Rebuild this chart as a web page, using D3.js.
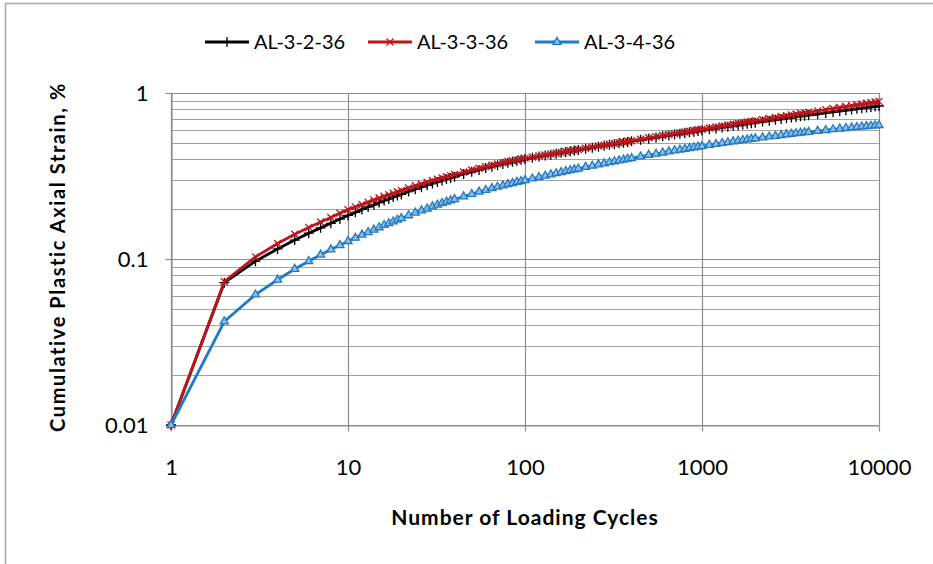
<!DOCTYPE html>
<html>
<head>
<meta charset="utf-8">
<script src="https://cdn.jsdelivr.net/npm/d3@7"></script>
<style>
  html, body { margin: 0; padding: 0; background: #fff; }
  svg { display: block; }
  text { font-family: Lato, "Open Sans", sans-serif; fill: #000; }
</style>
</head>
<body>
<svg id="chart" width="933" height="564"></svg>
<script>
// ---------- data ----------
const cycles = [1,2,3,4,5,6,7,8,9,10,
  11,12,13,14,15,16,17,18,19,20,
  22,24,26,28,30,32,34,36,38,40,
  45,50,55,60,65,70,75,80,85,90,95,100,
  110,120,130,140,150,160,170,180,190,200,
  220,240,260,280,300,320,340,360,380,400,
  450,500,550,600,650,700,750,800,850,900,950,1000,
  1100,1200,1300,1400,1500,1600,1700,1800,1900,2000,
  2200,2400,2600,2800,3000,3200,3400,3600,3800,4000,
  4500,5000,5500,6000,6500,7000,7500,8000,8500,9000,9500,10000];

const strainAL_3_2_36 = [0.010,0.072,0.097,0.115,0.130,0.143,0.154,0.164,0.174,0.183,
  0.191,0.199,0.206,0.212,0.219,0.225,0.230,0.236,0.241,0.245,
  0.255,0.263,0.271,0.278,0.285,0.291,0.297,0.303,0.308,0.313,
  0.325,0.335,0.344,0.353,0.360,0.367,0.374,0.380,0.385,0.391,0.396,0.400,
  0.407,0.414,0.420,0.425,0.431,0.436,0.441,0.445,0.450,0.454,
  0.461,0.468,0.475,0.481,0.487,0.492,0.498,0.502,0.507,0.512,
  0.522,0.531,0.540,0.548,0.555,0.562,0.568,0.574,0.580,0.585,0.590,0.595,
  0.604,0.612,0.620,0.627,0.634,0.641,0.647,0.652,0.658,0.663,
  0.673,0.681,0.690,0.697,0.704,0.711,0.718,0.724,0.729,0.735,
  0.747,0.759,0.769,0.778,0.787,0.795,0.803,0.810,0.817,0.823,0.829,0.835];

const strainAL_3_3_36 = [0.010,0.073,0.103,0.124,0.141,0.155,0.167,0.178,0.189,0.198,
  0.206,0.213,0.220,0.227,0.233,0.239,0.244,0.249,0.254,0.259,
  0.268,0.276,0.283,0.290,0.297,0.302,0.308,0.313,0.318,0.323,
  0.334,0.344,0.352,0.360,0.367,0.374,0.380,0.386,0.391,0.395,0.400,0.404,
  0.411,0.417,0.423,0.429,0.434,0.439,0.444,0.449,0.453,0.457,
  0.465,0.472,0.479,0.485,0.491,0.497,0.502,0.507,0.512,0.516,
  0.527,0.537,0.546,0.554,0.562,0.569,0.576,0.582,0.588,0.594,0.600,0.605,
  0.615,0.624,0.633,0.641,0.648,0.656,0.662,0.669,0.675,0.681,
  0.692,0.702,0.712,0.721,0.729,0.737,0.744,0.752,0.759,0.765,
  0.780,0.794,0.807,0.818,0.829,0.839,0.849,0.858,0.867,0.875,0.883,0.890];

const strainAL_3_4_36 = [0.010,0.042,0.061,0.075,0.087,0.097,0.106,0.114,0.121,0.128,
  0.134,0.140,0.145,0.150,0.155,0.160,0.164,0.168,0.172,0.176,
  0.183,0.190,0.196,0.201,0.207,0.212,0.217,0.221,0.225,0.229,
  0.238,0.246,0.254,0.260,0.267,0.272,0.277,0.282,0.286,0.291,0.294,0.298,
  0.305,0.311,0.317,0.323,0.328,0.333,0.338,0.342,0.346,0.350,
  0.358,0.364,0.371,0.376,0.382,0.387,0.392,0.396,0.401,0.405,
  0.414,0.423,0.430,0.437,0.444,0.450,0.455,0.460,0.465,0.470,0.474,0.478,
  0.486,0.492,0.499,0.504,0.510,0.515,0.520,0.524,0.528,0.532,
  0.539,0.546,0.551,0.557,0.562,0.567,0.571,0.575,0.579,0.582,
  0.590,0.597,0.604,0.609,0.614,0.619,0.623,0.627,0.631,0.634,0.637,0.640];

const seriesNames = ["AL-3-2-36", "AL-3-3-36", "AL-3-4-36"];
const xTicks = [1, 10, 100, 1000, 10000];
const yTicks = [0.01, 0.1, 1];
const yMinor = [0.02,0.03,0.04,0.05,0.06,0.07,0.08,0.09,0.2,0.3,0.4,0.5,0.6,0.7,0.8,0.9];
const xLabel = "Number of Loading Cycles";
const yLabel = "Cumulative Plastic Axial Strain, %";

// ---------- layout ----------
const svg = d3.select("#chart");
const M = { left: 171, right: 879, top: 93, bottom: 425 };
const x = d3.scaleLog().domain([1, 10000]).range([M.left, M.right]);
const y = d3.scaleLog().domain([0.01, 1]).range([M.bottom, M.top]);

const styles = [
  { color: "#000000", marker: "plus" },
  { color: "#bf141c", marker: "cross" },
  { color: "#1f7ac4", marker: "tri" }
];
const series = [strainAL_3_2_36, strainAL_3_3_36, strainAL_3_4_36].map((vals, i) => ({
  name: seriesNames[i],
  style: styles[i],
  points: cycles.map((c, j) => ({ x: c, y: vals[j] }))
}));

// outer frame
svg.append("rect").attr("x", 5.5).attr("y", 3.5).attr("width", 960).attr("height", 600)
  .attr("fill", "none").attr("stroke", "#a6a6a6").attr("stroke-width", 1.5);

// grid
const grid = svg.append("g");
grid.selectAll("line.hmin").data(yMinor).join("line")
  .attr("x1", M.left).attr("x2", M.right)
  .attr("y1", d => Math.round(y(d)) + 0.5).attr("y2", d => Math.round(y(d)) + 0.5)
  .attr("stroke", "#a3a3a3").attr("stroke-width", 1);
grid.selectAll("line.hmaj").data(yTicks).join("line")
  .attr("x1", M.left).attr("x2", M.right)
  .attr("y1", d => Math.round(y(d)) + 0.5).attr("y2", d => Math.round(y(d)) + 0.5)
  .attr("stroke", "#8c8c8c").attr("stroke-width", 1.2);
grid.selectAll("line.v").data(xTicks).join("line")
  .attr("y1", M.top).attr("y2", M.bottom)
  .attr("x1", d => Math.round(x(d)) + 0.5).attr("x2", d => Math.round(x(d)) + 0.5)
  .attr("stroke", "#8c8c8c").attr("stroke-width", 1.2);

// axes
const fmt = d => String(d);
const xAxis = svg.append("g").attr("transform", `translate(0,${M.bottom + 0.5})`)
  .call(d3.axisBottom(x).tickValues(xTicks).tickFormat(fmt).tickSize(6).tickSizeOuter(0));
const yAxis = svg.append("g").attr("transform", `translate(${M.left + 0.5},0)`)
  .call(d3.axisLeft(y).tickValues(yTicks).tickFormat(fmt).tickSize(6).tickSizeOuter(0));
[xAxis, yAxis].forEach(a => {
  a.select(".domain").attr("stroke", "#8c8c8c").attr("stroke-width", 1.2);
  a.selectAll(".tick line").attr("stroke", "#8c8c8c").attr("stroke-width", 1.2);
  a.selectAll("text").attr("font-family", "Lato, sans-serif").attr("font-size", 22)
    .attr("fill", "#000");
});
xAxis.selectAll("text").attr("dy", null).attr("y", 49);
yAxis.selectAll("text").attr("x", -23).attr("dy", "0.35em");

// lines and markers
const line = d3.line().x(d => x(d.x)).y(d => y(d.y));
const markerPath = {
  plus: "M-5,0H5M0,-5V5",
  cross: "M-3.5,-3.5L3.5,3.5M-3.5,3.5L3.5,-3.5",
  tri: d3.symbol().type(d3.symbolTriangle).size(28)()
};
series.forEach(s => {
  const g = svg.append("g");
  g.append("path").datum(s.points).attr("d", line)
    .attr("fill", "none").attr("stroke", s.style.color).attr("stroke-width", 2.8)
    .attr("stroke-linejoin", "round");
  g.selectAll("path.m").data(s.points).join("path")
    .attr("transform", d => `translate(${x(d.x)},${y(d.y)})`)
    .attr("d", markerPath[s.style.marker])
    .attr("fill", s.style.marker === "tri" ? "#8fbde6" : "none")
    .attr("stroke", s.style.color).attr("stroke-width", 1.3);
});

// axis titles
svg.append("text").attr("x", 525).attr("y", 525)
  .attr("text-anchor", "middle").attr("font-size", 21).attr("font-weight", "bold")
  .attr("letter-spacing", 1.0)
  .text(xLabel);
svg.append("text").attr("transform", `translate(65,257) rotate(-90)`)
  .attr("text-anchor", "middle").attr("font-size", 20).attr("font-weight", "bold")
  .attr("letter-spacing", 1.6)
  .text(yLabel);

// legend
const legendX = [205, 368, 535];
const lg = svg.append("g");
series.forEach((s, i) => {
  const gx = legendX[i];
  lg.append("line").attr("x1", gx).attr("x2", gx + 44).attr("y1", 42).attr("y2", 42)
    .attr("stroke", s.style.color).attr("stroke-width", 2.8);
  lg.append("path").attr("transform", `translate(${gx + 22},42)`)
    .attr("d", markerPath[s.style.marker])
    .attr("fill", s.style.marker === "tri" ? "#8fbde6" : "none")
    .attr("stroke", s.style.color).attr("stroke-width", 1.3);
  lg.append("text").attr("x", gx + 49).attr("y", 42).attr("dy", "0.35em")
    .attr("font-size", 20).text(s.name);
});
</script>
</body>
</html>
